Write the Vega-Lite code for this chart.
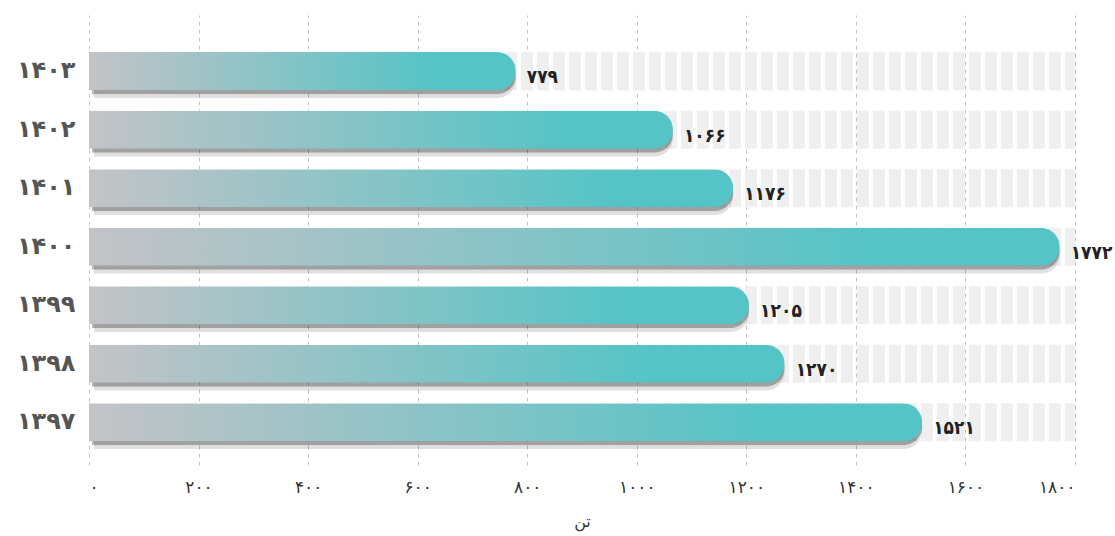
{
  "$schema": "https://vega.github.io/schema/vega-lite/v6.json",
  "width": 986,
  "height": 450,
  "autosize": {"type": "none"},
  "padding": {"left": 89, "top": 15, "right": 40, "bottom": 71},
  "background": "white",
  "config": {"view": {"stroke": null}, "font": "DejaVu Sans"},
  "data": {
    "values": [
      {"year": "۱۴۰۳", "value": 779, "label": "۷۷۹"},
      {"year": "۱۴۰۲", "value": 1066, "label": "۱۰۶۶"},
      {"year": "۱۴۰۱", "value": 1176, "label": "۱۱۷۶"},
      {"year": "۱۴۰۰", "value": 1772, "label": "۱۷۷۲"},
      {"year": "۱۳۹۹", "value": 1205, "label": "۱۲۰۵"},
      {"year": "۱۳۹۸", "value": 1270, "label": "۱۲۷۰"},
      {"year": "۱۳۹۷", "value": 1521, "label": "۱۵۲۱"}
    ]
  },
  "encoding": {
    "y": {
      "field": "year",
      "type": "nominal",
      "sort": ["۱۴۰۳", "۱۴۰۲", "۱۴۰۱", "۱۴۰۰", "۱۳۹۹", "۱۳۹۸", "۱۳۹۷"],
      "scale": {"paddingInner": 0.35, "paddingOuter": 0.52, "align": 0.61},
      "axis": {
        "domain": false,
        "ticks": false,
        "title": null,
        "labelFontSize": 24,
        "labelFontWeight": "bold",
        "labelColor": "#555555",
        "labelPadding": 14
      }
    },
    "x": {
      "field": "value",
      "type": "quantitative",
      "scale": {"domain": [0, 1800], "nice": false},
      "axis": {
        "values": [0, 200, 400, 600, 800, 1000, 1200, 1400, 1600, 1800],
        "format": "d",
        "labelExpr": "replace(replace(replace(replace(replace(replace(replace(replace(replace(replace(datum.label, regexp('0','g'), '۰'), regexp('1','g'), '۱'), regexp('2','g'), '۲'), regexp('3','g'), '۳'), regexp('4','g'), '۴'), regexp('5','g'), '۵'), regexp('6','g'), '۶'), regexp('7','g'), '۷'), regexp('8','g'), '۸'), regexp('9','g'), '۹')",
        "grid": true,
        "gridDash": [4, 4],
        "gridColor": "#c4c4c4",
        "domain": false,
        "ticks": false,
        "labelPadding": 14,
        "labelFontSize": 17,
        "labelColor": "#333333",
        "title": "تن",
        "titleFontSize": 16,
        "titleFontWeight": "normal",
        "titleColor": "#333333",
        "titlePadding": 18
      }
    }
  },
  "layer": [
    {
      "mark": {"type": "rule", "strokeWidth": 38, "strokeDash": [12, 4], "color": "#efefef", "strokeCap": "butt"},
      "encoding": {
        "x": {"datum": 0, "type": "quantitative"},
        "x2": {"datum": 1800}
      }
    },
    {
      "mark": {"type": "bar", "color": "#000000", "opacity": 0.12, "yOffset": 8, "xOffset": 5, "cornerRadiusEnd": 19}
    },
    {
      "mark": {"type": "bar", "color": "#000000", "opacity": 0.28, "yOffset": 4, "xOffset": 3, "cornerRadiusEnd": 19}
    },
    {
      "mark": {
        "type": "bar",
        "cornerRadiusEnd": 19,
        "color": {
          "gradient": "linear",
          "x1": 0, "y1": 0, "x2": 1, "y2": 0,
          "stops": [
            {"offset": 0, "color": "#c3c3c7"},
            {"offset": 0.8, "color": "#56c4c6"},
            {"offset": 1, "color": "#54c4c6"}
          ]
        }
      }
    },
    {
      "mark": {"type": "text", "align": "left", "baseline": "middle", "dx": 11, "dy": 6, "fontSize": 19, "fontWeight": "bold", "font": "DejaVu Sans Condensed", "color": "#222222"},
      "encoding": {"text": {"field": "label"}}
    }
  ]
}
